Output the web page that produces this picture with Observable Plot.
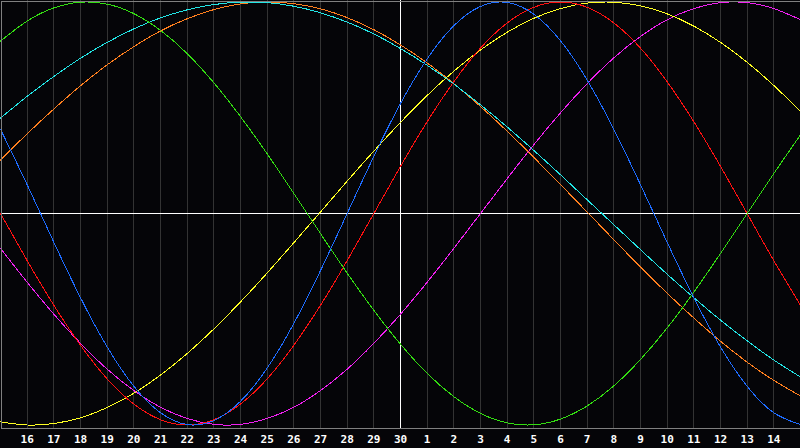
<!DOCTYPE html>
<html><head><meta charset="utf-8">
<script src="https://cdn.jsdelivr.net/npm/d3@7"></script>
<script src="https://cdn.jsdelivr.net/npm/@observablehq/plot@0.6"></script>
<style>html,body{margin:0;padding:0;background:#050508;} svg{display:block}</style>
</head><body><div id="chart"></div>
<script>
// day index 0..30 (15th of one month to 15th of the next)
const days = [0,1,2,3,4,5,6,7,8,9,10,11,12,13,14,15,16,17,18,19,20,21,22,23,24,25,26,27,28,29,30];
const dayLabels = ["15","16","17","18","19","20","21","22","23","24","25","26","27","28","29","30","1","2","3","4","5","6","7","8","9","10","11","12","13","14","15"];
const tickDays = [1,2,3,4,5,6,7,8,9,10,11,12,13,14,15,16,17,18,19,20,21,22,23,24,25,26,27,28,29];
const todayDay = 15;

// values, one per day, -1..1
const physical = [0.398,0.136,-0.136,-0.398,-0.631,-0.817,-0.942,-0.998,-0.979,-0.888,-0.731,-0.520,-0.270,0,0.270,0.520,0.731,0.888,0.979,0.998,0.942,0.817,0.631,0.398,0.136,-0.136,-0.398,-0.631,-0.817,-0.942,-0.998];
const emotional = [0,-0.223,-0.434,-0.623,-0.782,-0.901,-0.975,-1,-0.975,-0.901,-0.782,-0.623,-0.434,-0.223,0,0.223,0.434,0.623,0.782,0.901,0.975,1,0.975,0.901,0.782,0.623,0.434,0.223,0,-0.223,-0.434];
const intellectual = [0.815,0.910,0.972,0.999,0.990,0.945,0.866,0.756,0.618,0.458,0.282,0.095,-0.095,-0.282,-0.458,-0.618,-0.756,-0.866,-0.945,-0.990,-0.999,-0.972,-0.910,-0.815,-0.690,-0.541,-0.372,-0.189,0,0.189,0.372];
const intuitive = [-0.165,-0.325,-0.476,-0.614,-0.736,-0.837,-0.916,-0.969,-0.997,-0.997,-0.969,-0.916,-0.837,-0.736,-0.614,-0.476,-0.325,-0.165,0,0.165,0.325,0.476,0.614,0.736,0.837,0.916,0.969,0.997,0.997,0.969,0.916];
const aesthetic = [-0.985,-1.000,-0.993,-0.966,-0.917,-0.850,-0.764,-0.662,-0.546,-0.418,-0.281,-0.138,0.007,0.153,0.295,0.431,0.558,0.673,0.773,0.857,0.923,0.969,0.995,0.999,0.982,0.944,0.886,0.809,0.715,0.605,0.483];
const awareness = [0.253,0.377,0.494,0.604,0.703,0.789,0.863,0.921,0.964,0.991,1.000,0.992,0.968,0.926,0.869,0.797,0.712,0.614,0.506,0.389,0.265,0.137,0.007,-0.124,-0.253,-0.377,-0.494,-0.604,-0.703,-0.789,-0.863];
const spiritual = [0.451,0.554,0.648,0.734,0.809,0.873,0.925,0.963,0.988,0.999,0.997,0.980,0.949,0.905,0.849,0.780,0.701,0.612,0.514,0.409,0.298,0.183,0.065,-0.053,-0.171,-0.287,-0.398,-0.504,-0.602,-0.693,-0.773];

const seriesNames = ["awareness","spiritual","intuitive","aesthetic","emotional","intellectual","physical"];
const seriesValues = [awareness, spiritual, intuitive, aesthetic, emotional, intellectual, physical];
const seriesColors = ["#ff7f1e","#22e6e6","#f020f0","#ffff22","#ff1010","#33dd11","#1e6cff"];

const lineMarks = seriesNames.map((name, k) =>
  Plot.line(days.map((d, i) => ({day: d, value: seriesValues[k][i]})), {
    x: "day", y: "value", stroke: seriesColors[k], strokeWidth: 1, curve: "natural"
  })
);

const chart = Plot.plot({
  width: 800, height: 448,
  marginTop: 0, marginBottom: 20, marginLeft: 0, marginRight: 0,
  style: {background: "#050508", fontFamily: "DejaVu Sans Mono", shapeRendering: "crispEdges"},
  x: {domain: [0, 30], axis: null},
  y: {domain: [-1, 1], insetTop: 1.5, insetBottom: 3.5, axis: null},
  marks: [
    Plot.ruleX(tickDays, {stroke: "#333333", strokeWidth: 1}),
    Plot.ruleY([0], {stroke: "#ffffff", strokeWidth: 1}),
    Plot.ruleX([todayDay], {stroke: "#ffffff", strokeWidth: 1}),
    ...lineMarks,
    Plot.frame({stroke: "#808080", inset: 0.5}),
    Plot.axisX({
      ticks: tickDays, tickFormat: d => dayLabels[d], tickSize: 0, tickPadding: 7, label: null,
      fill: "#ffffff", fontSize: 11, fontWeight: "bold", fontFamily: "DejaVu Sans Mono"
    })
  ]
});
document.getElementById("chart").append(chart);
</script>
</body></html>
